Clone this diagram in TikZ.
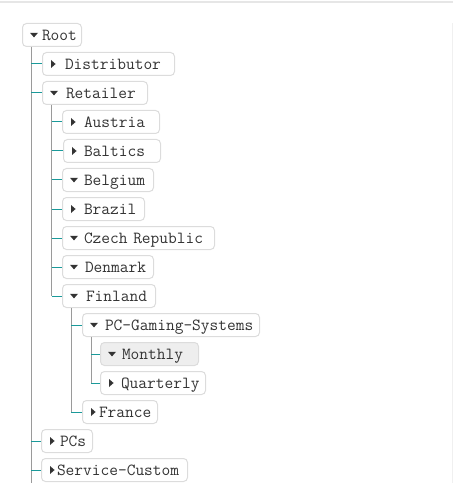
\documentclass[tikz,border=0pt]{standalone}
\usetikzlibrary{calc}
\definecolor{FrameGray}{HTML}{DCDCDC}
\definecolor{TrunkGray}{HTML}{9A9A9A}
\definecolor{BranchTeal}{HTML}{1A9A9A}
\definecolor{PickFill}{HTML}{EEEEEE}
\definecolor{EdgeGray}{HTML}{E6E6E6}
\definecolor{InkGray}{HTML}{333333}
\tikzset{
  entry/.style 2 args={draw=FrameGray,line width=1bp,rounded corners=4bp,fill=white,
    anchor=west,inner xsep=0pt,inner ysep=0pt,text width=#1bp,align=left,
    minimum height=23bp,text height=11.5bp,text depth=0.5bp,
    font=\ttfamily\fontsize{17}{19}\selectfont,text=InkGray,
    execute at begin node={\hspace*{#2bp}}},
  opened/.style={path picture={\fill[InkGray,sharp corners]
    ($(path picture bounding box.west)+(7.5,-2.2)$) -- ++(8,0) -- ++(-4,4.6) -- cycle;}},
  closed/.style={path picture={\fill[InkGray,sharp corners]
    ($(path picture bounding box.west)+(8.5,-4)$) -- ++(0,8) -- ++(4.6,-4) -- cycle;}},
  picked/.style={fill=PickFill},
  trunk/.style={draw=TrunkGray,line width=1bp},
  branch/.style={draw=BranchTeal,line width=1bp},
  pageedge/.style={draw=EdgeGray,line width=2bp}
}
\begin{document}
\begin{tikzpicture}[x=1bp,y=-1bp]
  \useasboundingbox (0,0) rectangle (453,483);
  \draw[pageedge] (0,2.5) -- (453,2.5);
  \draw[pageedge,draw=EdgeGray!60,line width=1bp] (452,23) -- (452,483);

  % tree entries
  \node[entry={59}{19.5},opened] (root) at (22,35) {Root};
  \node[entry={132}{22.5},closed] (dist) at (42,64) {Distributor};
  \node[entry={105}{23.5},opened] (ret) at (42,93) {Retailer};
  \node[entry={97}{21.5},closed] (aut) at (62,122) {Austria};
  \node[entry={97}{20.5},closed] (bal) at (63,151) {Baltics};
  \node[entry={91}{21.5},opened] (bel) at (62,180) {Belgium};
  \node[entry={82}{21.5},closed] (bra) at (62,209) {Brazil};
  \node[entry={152}{21.5},opened] (cze) at (62,238) {Czech Republic};
  \node[entry={91}{22.5},opened] (den) at (62,267) {Denmark};
  \node[entry={93}{23.5},opened] (fin) at (62,296) {Finland};
  \node[entry={177}{22.5},opened] (pcg) at (82,325) {PC-Gaming-Systems};
  \node[entry={98}{21.5},opened,picked] (mon) at (100,354) {Monthly};
  \node[entry={105}{20.5},closed] (qua) at (100,383) {Quarterly};
  \node[entry={75}{16.5},closed] (fra) at (82,412) {France};
  \node[entry={51}{18.5},closed] (pcs) at (41,441) {PCs};
  \node[entry={146}{15.5},closed] (ser) at (41,470) {Service-Custom};

  % trunks and branches
  \coordinate (rootT) at ($(root.south west)+(9,0)$);
  \coordinate (retT) at ($(ret.south west)+(9.5,0)$);
  \coordinate (finT) at ($(fin.south west)+(9,0)$);
  \coordinate (pcgT) at ($(pcg.south west)+(9,0)$);
  \coordinate (bottom) at (0,483);
  \draw[trunk] (rootT) -- (rootT |- bottom);
  \draw[trunk] (retT) -- (retT |- fin.west);
  \draw[trunk] (finT) -- (finT |- fra.west);
  \draw[trunk] (pcgT) -- (pcgT |- qua.west);
  \foreach \c in {dist,ret,pcs,ser}
    \draw[branch] (rootT |- \c.west) -- (\c.west);
  \foreach \c in {aut,bal,bel,bra,cze,den,fin}
    \draw[branch] (retT |- \c.west) -- (\c.west);
  \foreach \c in {pcg,fra}
    \draw[branch] (finT |- \c.west) -- (\c.west);
  \foreach \c in {mon,qua}
    \draw[branch] (pcgT |- \c.west) -- (\c.west);
\end{tikzpicture}
\end{document}
